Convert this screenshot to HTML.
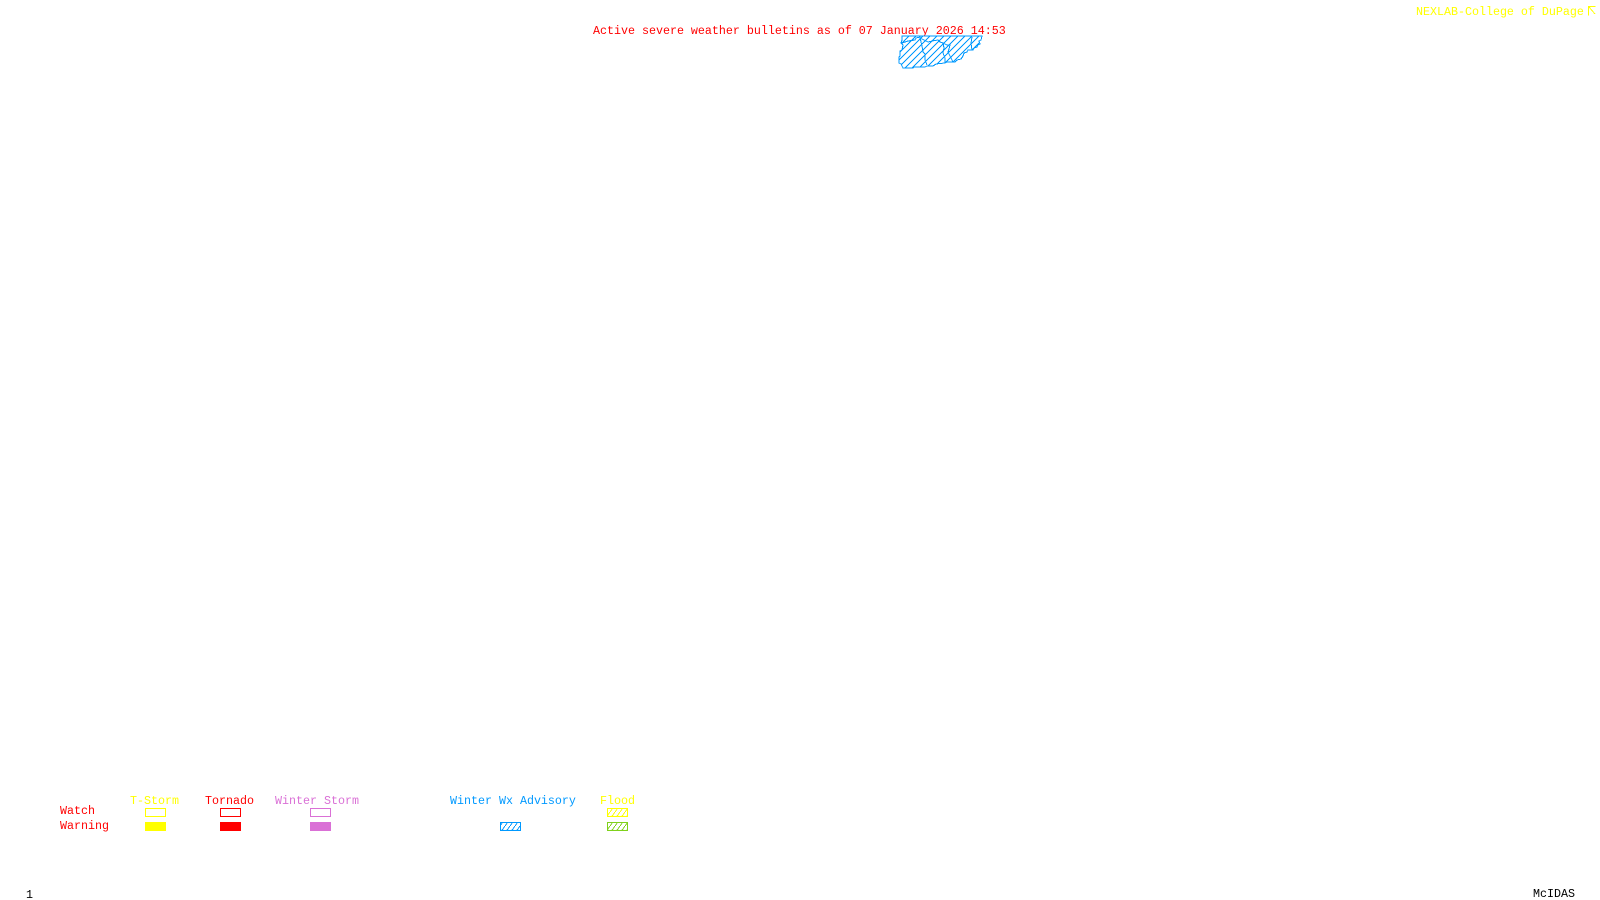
<!DOCTYPE html>
<html>
<head>
<meta charset="utf-8">
<style>
html,body{margin:0;padding:0;background:#fff;width:1600px;height:900px;overflow:hidden}
svg{display:block}
text{font-family:"Liberation Mono",monospace;font-size:11.67px;white-space:pre}
</style>
</head>
<body>
<svg width="1600" height="900" viewBox="0 0 1600 900" xmlns="http://www.w3.org/2000/svg">
<defs>
<pattern id="h" width="7" height="7" patternUnits="userSpaceOnUse"><path d="M-1 8L8 -1M-1 1L1 -1M6 8L8 6" stroke="#0099ff" stroke-width="1" fill="none" shape-rendering="crispEdges"/></pattern>
<pattern id="hb" width="5" height="7" patternUnits="userSpaceOnUse"><path d="M0 7L5 0" stroke="#0099ff" stroke-width="1" fill="none" shape-rendering="crispEdges"/></pattern>
<pattern id="hy" width="5" height="7" patternUnits="userSpaceOnUse"><path d="M0 7L5 0" stroke="#ffff00" stroke-width="1" fill="none" shape-rendering="crispEdges"/></pattern>
<pattern id="hg" width="5" height="7" patternUnits="userSpaceOnUse"><path d="M0 7L5 0" stroke="#7fd11b" stroke-width="1" fill="none" shape-rendering="crispEdges"/></pattern>
</defs>

<text x="593" y="34" fill="#ff0000">Active severe weather bulletins as of 07 January 2026 14:53</text>
<text x="1416" y="15" fill="#ffff00">NEXLAB-College of DuPage</text>
<path d="M1595.500 6.500H1588.500V15.500M1589 7L1595 14" fill="none" stroke="#ffff00" stroke-width="1" shape-rendering="crispEdges"/>

<g fill="url(#h)" stroke="#0099ff" stroke-width="1" shape-rendering="crispEdges">
<path d="M902 36L902 40L901 43L903 45L902 50L900 51L900 56L899 57L899 63L901 64L903 68L913 68L914 67L925 67L927 66L933 66L936 64L945 63L947 62L955 62L957 60L961 59L963 56L964 53L967 52L968 50L973 50L974 48L977 47L978 45L980 44L979 41L981 40L982 36Z"/>
</g>
<g fill="none" stroke="#0099ff" stroke-width="1" shape-rendering="crispEdges">
<path d="M902 43L908 41L915 40L916 38L920 37L921 42L922 46L923 52L925 54L925 60L927 65"/>
<path d="M920 38L924 40L928 42L932 41L938 40L940 42L943 43L944 48L943 53L945 58L945 63"/>
<path d="M943 43L947 45L950 45L949 49L948 52L950 56L953 62"/>
<path d="M972 37L971 43L972 50"/>
</g>

<text x="130" y="804" fill="#ffff00">T-Storm</text>
<text x="205" y="804" fill="#ff0000">Tornado</text>
<text x="275" y="804" fill="#da70d6">Winter Storm</text>
<text x="450" y="804" fill="#0099ff">Winter Wx Advisory</text>
<text x="600" y="804" fill="#ffff00">Flood</text>
<text x="60" y="814" fill="#ff0000">Watch</text>
<text x="60" y="829" fill="#ff0000">Warning</text>

<g shape-rendering="crispEdges">
<rect x="145.500" y="808.500" width="20" height="8" fill="none" stroke="#ffff00"/>
<rect x="145" y="822" width="21" height="9" fill="#ffff00"/>
<rect x="220.500" y="808.500" width="20" height="8" fill="none" stroke="#ff0000"/>
<rect x="220" y="822" width="21" height="9" fill="#ff0000"/>
<rect x="310.500" y="808.500" width="20" height="8" fill="none" stroke="#da70d6"/>
<rect x="310" y="822" width="21" height="9" fill="#da70d6"/>
<rect x="500.500" y="822.500" width="20" height="8" fill="url(#hb)" stroke="#0099ff"/>
<rect x="607.500" y="808.500" width="20" height="8" fill="url(#hy)" stroke="#ffff00"/>
<rect x="607.500" y="822.500" width="20" height="8" fill="url(#hg)" stroke="#7fd11b"/>
</g>

<text x="26" y="898" fill="#000000">1</text>
<text x="1533" y="897" fill="#000000">McIDAS</text>
</svg>
</body>
</html>
